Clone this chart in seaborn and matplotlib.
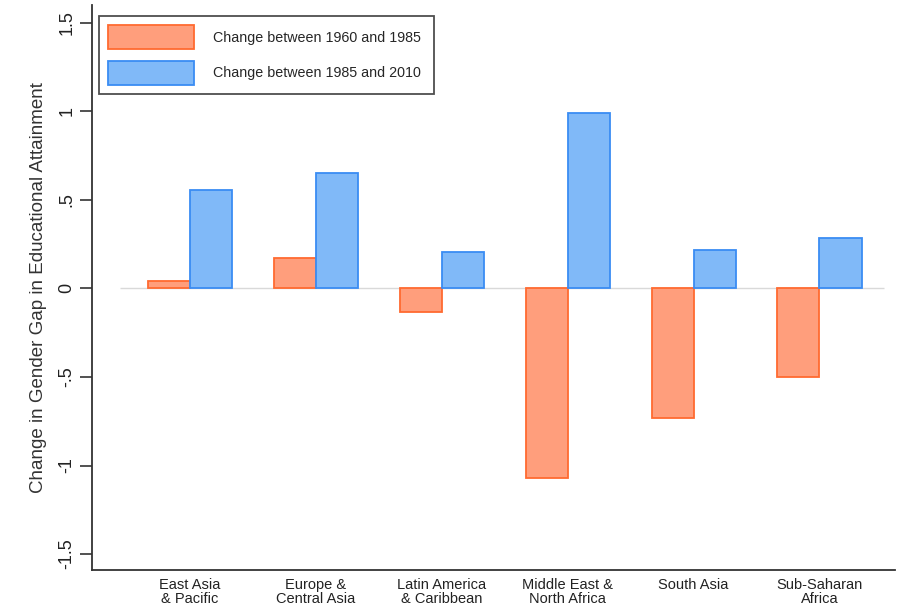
import matplotlib
matplotlib.use("Agg")
import matplotlib.pyplot as plt
import seaborn as sns
import pandas as pd
from matplotlib.patches import Patch

# Regions (two-line tick labels)
regions = [
    "East Asia\n& Pacific",
    "Europe &\nCentral Asia",
    "Latin America\n& Caribbean",
    "Middle East &\nNorth Africa",
    "South Asia",
    "Sub-Saharan\nAfrica",
]
change_1960_1985 = [0.043, 0.173, -0.136, -1.073, -0.731, -0.503]
change_1985_2010 = [0.555, 0.650, 0.205, 0.989, 0.216, 0.286]
series_names = ["Change between 1960 and 1985", "Change between 1985 and 2010"]
ytick_values = [-1.5, -1, -0.5, 0, 0.5, 1, 1.5]
ytick_labels = ["-1.5", "-1", "-.5", "0", ".5", "1", "1.5"]

fill_colors = ["#FF9E7C", "#80B9F8"]
edge_colors = ["#FF6A30", "#3A8CF3"]

df = pd.DataFrame({
    "region": regions * 2,
    "period": [series_names[0]] * len(regions) + [series_names[1]] * len(regions),
    "value": change_1960_1985 + change_1985_2010,
})

sns.set_style("white")
plt.rcParams["font.family"] = ["Liberation Sans", "DejaVu Sans"]

fig = plt.figure(figsize=(8.97, 6.06), dpi=100)
ax = fig.add_axes([92 / 897, 36 / 606, (895 - 92) / 897, (570 - 5) / 606])

sns.barplot(
    data=df, x="region", y="value", hue="period", order=regions,
    hue_order=series_names, palette=fill_colors, width=0.668,
    errorbar=None, legend=False, ax=ax, saturation=1, zorder=3,
)

for container, ec in zip(ax.containers, edge_colors):
    for bar in container:
        bar.set_edgecolor(ec)
        bar.set_linewidth(1.3)

ax.hlines(0, -0.56, 5.51, color="#D9D9D9", linewidth=1.0, zorder=2)

ax.set_xlim(-0.78, 5.6)
ax.set_ylim(-1.59, 1.60)
ax.set_yticks(ytick_values)
ax.set_yticklabels(ytick_labels, rotation=90, va="center", fontsize=13, color="#222222")
ax.tick_params(axis="y", direction="out", length=9, width=1.2, color="#333333", pad=3, left=True)
ax.tick_params(axis="x", length=0, labelsize=10.5, pad=6, labelcolor="#222222")
for lab in ax.get_xticklabels():
    lab.set_linespacing(1.0)

ax.set_xlabel("")
ax.set_ylabel("Change in Gender Gap in Educational Attainment", fontsize=13.5,
              color="#333333", labelpad=8)

for side in ["top", "right"]:
    ax.spines[side].set_visible(False)
for side in ["left", "bottom"]:
    ax.spines[side].set_color("#333333")
    ax.spines[side].set_linewidth(1.3)

# Legend box spans a fixed width inside the plot's upper-left corner
handles = [Patch(facecolor=fc, edgecolor=ec, linewidth=1.3) for fc, ec in zip(fill_colors, edge_colors)]
ax_w, ax_h = 895 - 92, 570 - 5
leg = ax.legend(
    handles, series_names, loc="upper left", mode="expand",
    bbox_to_anchor=(7 / ax_w, 1 - 11 / ax_h, (434 - 99) / ax_w, 0),
    frameon=True, fancybox=False, edgecolor="#222222", fontsize=10.3,
    handlelength=6.0, handleheight=2.2, handletextpad=1.3, labelspacing=0.8,
    borderpad=0.65, borderaxespad=0,
)
leg.get_frame().set_linewidth(1.3)

fig.savefig("out.png", dpi=100, facecolor="white")
